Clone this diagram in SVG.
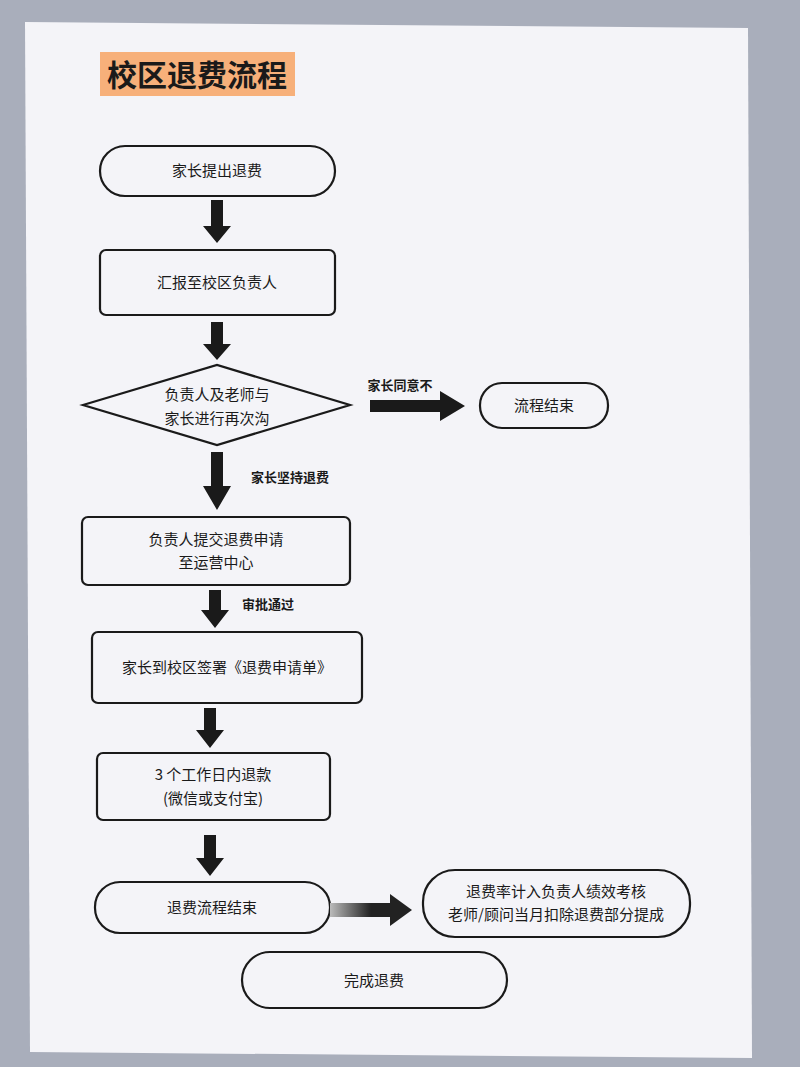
<svg xmlns="http://www.w3.org/2000/svg" width="800" height="1067" viewBox="0 0 800 1067">
<defs>
<style>
.n{fill:none;stroke:#1a1a1a;stroke-width:2.2}
.t{font-family:"Noto Sans CJK SC","Noto Sans",sans-serif;font-size:15px;fill:#1a1a1a;text-anchor:middle}
.l{font-family:"Noto Sans CJK SC","Noto Sans",sans-serif;font-size:13px;font-weight:bold;fill:#1a1a1a;text-anchor:middle}
.a{fill:#1a1a1a}
</style>
<linearGradient id="g" x1="0" x2="1"><stop offset="0" stop-color="#bbb"/><stop offset="0.5" stop-color="#222"/></linearGradient>
</defs>
<rect width="800" height="1067" fill="#a9aebb"/>
<polygon points="25,22 748,28 752,1058 30,1052" fill="#f4f4f8"/>
<g id="title"><rect x="100" y="52" width="195" height="44" fill="#f7b07a"/>
<text x="197" y="86" font-family="Noto Sans CJK SC,sans-serif" font-size="30" font-weight="bold" text-anchor="middle" fill="#1a1a1a">校区退费流程</text></g>
<g id="n1"><rect class="n" x="100" y="146" width="235" height="50" rx="25"/><text class="t" x="217" y="176">家长提出退费</text></g>
<g id="n2"><rect class="n" x="100" y="250" width="235" height="65" rx="6"/><text class="t" x="217" y="288">汇报至校区负责人</text></g>
<g id="n3"><polygon class="n" points="83,405 217,365 350,405 217,445"/><text class="t" x="217" y="400">负责人及老师与</text><text class="t" x="217" y="424">家长进行再次沟</text></g>
<g id="n4"><rect class="n" x="480" y="383" width="128" height="45" rx="22"/><text class="t" x="544" y="411">流程结束</text></g>
<g id="n5"><rect class="n" x="82" y="517" width="268" height="68" rx="6"/><text class="t" x="216" y="545">负责人提交退费申请</text><text class="t" x="216" y="568">至运营中心</text></g>
<g id="n6"><rect class="n" x="92" y="632" width="270" height="71" rx="6"/><text class="t" x="227" y="673">家长到校区签署《退费申请单》</text></g>
<g id="n7"><rect class="n" x="97" y="753" width="233" height="67" rx="6"/><text class="t" x="213" y="780">3 个工作日内退款</text><text class="t" x="213" y="804">(微信或支付宝)</text></g>
<g id="n8"><rect class="n" x="95" y="882" width="235" height="51" rx="25"/><text class="t" x="212" y="913">退费流程结束</text></g>
<g id="n9"><rect class="n" x="423" y="870" width="267" height="67" rx="32"/><text class="t" x="556" y="897">退费率计入负责人绩效考核</text><text class="t" x="556" y="920">老师/顾问当月扣除退费部分提成</text></g>
<g id="n10"><rect class="n" x="242" y="952" width="265" height="56" rx="28"/><text class="t" x="374" y="986">完成退费</text></g>
<g id="connectors">
<polygon class="a" points="211,200 223,200 223,226 231,226 217,243 203,226 211,226"/>
<polygon class="a" points="211,322 223,322 223,344 231,344 217,360 203,344 211,344"/>
<polygon class="a" points="370,400 440,400 440,391 465,406 440,421 440,412 370,412"/>
<text class="l" x="400" y="390">家长同意不</text>
<polygon class="a" points="211,452 223,452 223,486 231,486 217,510 203,486 211,486"/>
<text class="l" x="290" y="482">家长坚持退费</text>
<polygon class="a" points="209,590 221,590 221,610 229,610 215,628 201,610 209,610"/>
<text class="l" x="268" y="609">审批通过</text>
<polygon class="a" points="204,708 216,708 216,730 224,730 210,748 196,730 204,730"/>
<polygon class="a" points="204,835 216,835 216,858 224,858 210,876 196,858 204,858"/>
<polygon fill="url(#g)" points="330,903 390,903 390,894 412,910 390,926 390,917 330,917"/>
</g>
</svg>
